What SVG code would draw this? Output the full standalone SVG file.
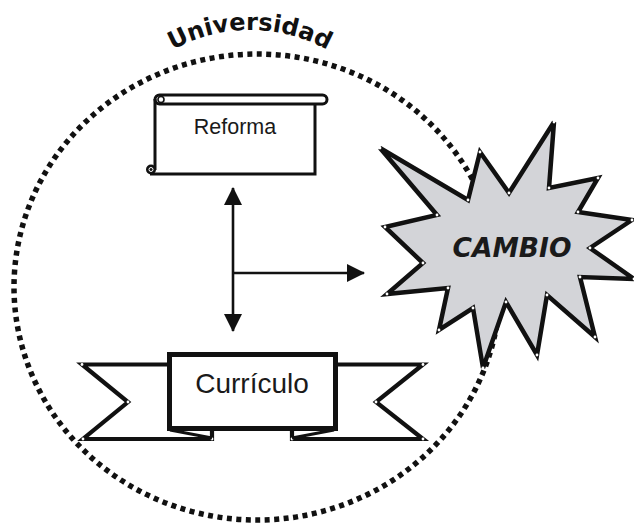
<svg xmlns="http://www.w3.org/2000/svg" width="634" height="524" viewBox="0 0 634 524">
<style>
.dot{fill:none;stroke:#111;stroke-width:5.5;stroke-dasharray:5 4.5}
.ln{stroke:#111;stroke-width:2.6;fill:none}
.rib{stroke:#111;stroke-width:4.2;fill:#fff;stroke-linejoin:miter}
.lbl{font-family:"Liberation Sans",Arial,sans-serif;fill:#1a1a1a}
</style>
<defs>
<marker id="ah" markerUnits="userSpaceOnUse" markerWidth="20" markerHeight="20" refX="17" refY="9" orient="auto">
<path d="M0,0 L18,9 L0,18 Z" fill="#111"/>
</marker>
<marker id="wd" markerUnits="userSpaceOnUse" markerWidth="4" markerHeight="4" refX="2" refY="2">
<circle cx="2" cy="2" r="1.4" fill="#fff"/>
</marker>
<path id="arcU" d="M90,190 A160,160 0 0 1 410,190"/>
</defs>

<g id="universidad">
<ellipse class="dot" cx="257" cy="287" rx="243" ry="233"/>
<text font-family="DejaVu Sans, sans-serif" font-weight="bold" font-size="24" fill="#111"><textPath href="#arcU" startOffset="50%" text-anchor="middle">Universidad</textPath></text>
</g>

<g id="connectors">
<line class="ln" x1="233" y1="273" x2="233" y2="188" marker-end="url(#ah)"/>
<line class="ln" x1="233" y1="273" x2="233" y2="331" marker-end="url(#ah)"/>
<line class="ln" x1="232" y1="273" x2="364" y2="273" marker-end="url(#ah)"/>
</g>

<g id="reforma">
<rect x="155" y="95" width="172" height="9" rx="4.5" fill="#fff" stroke="#111" stroke-width="3"/>
<path d="M155,99 L155,170 M315,104 L315,174 L150,174" fill="none" stroke="#111" stroke-width="3"/>
<circle cx="161" cy="99.5" r="3" fill="none" stroke="#111" stroke-width="1.6"/>
<circle cx="151" cy="169.5" r="5" fill="#111"/>
<circle cx="151" cy="169.5" r="2" fill="none" stroke="#fff" stroke-width="1"/>
<text class="lbl" x="235" y="134" font-size="21.5" text-anchor="middle">Reforma</text>
</g>

<g id="curriculo">
<path class="rib" d="M167,364.5 L82,364.5 L128,402 L83,439 L212,439 L212,430" marker-mid="url(#wd)"/>
<path class="rib" d="M338,364.5 L423,364.5 L376,402 L423,439 L292,439 L292,430" marker-mid="url(#wd)"/>
<path d="M170,430 L212,438 M334,430 L292,438" fill="none" stroke="#111" stroke-width="3"/>
<rect x="169.5" y="354.5" width="166" height="74" fill="#fff" stroke="#111" stroke-width="5"/>
<text class="lbl" x="252" y="393" font-size="28" text-anchor="middle">Currículo</text>
</g>

<g id="cambio">
<polygon points="380,148 468,200 480,152 509,193 554,122 549,188 598,178 578,212 632,220 590,248 634,279 580,277 595,337 547,295 537,355 506,302 483,368 473,308 439,330 448,288 387,294 423,263 385,227 437,215" fill="#d3d4d8" stroke="#111" stroke-width="4.5" stroke-linejoin="miter" marker-start="url(#wd)" marker-mid="url(#wd)"/>
<text x="512" y="257" font-family="DejaVu Sans, sans-serif" font-weight="bold" font-style="italic" font-size="26.5" text-anchor="middle" fill="#1a1a1a">CAMBIO</text>
</g>
</svg>
